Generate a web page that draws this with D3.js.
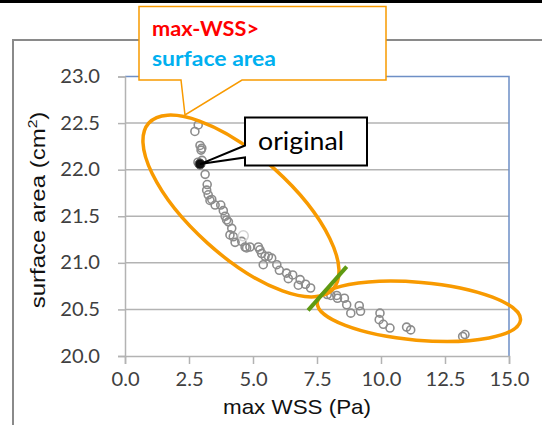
<!DOCTYPE html>
<html>
<head>
<meta charset="utf-8">
<script src="https://cdn.jsdelivr.net/npm/d3@7"></script>
<style>
  html, body { margin: 0; padding: 0; background: #fff; }
  svg { display: block; }
</style>
</head>
<body>
<svg id="chart" width="542" height="425"></svg>
<script>
// Max wall shear stress (Pa) vs. surface area (cm²) of the shape variants
const wss = [2.86, 2.73, 2.93, 3.00, 2.97, 2.85, 3.01, 3.13, 3.21, 3.19,
             3.25, 3.32, 3.39, 3.52, 3.74, 3.84, 3.91, 3.97, 4.04, 4.17,
             4.10, 4.23, 4.30, 4.56, 4.69, 4.75, 4.88, 5.21, 5.27, 5.34,
             5.47, 5.60, 5.73, 5.40, 5.93, 6.03, 6.31, 6.55, 6.38, 6.84,
             6.77, 7.05, 7.25, 7.90, 8.04, 8.27, 8.30, 8.57, 8.66, 8.82,
             9.15, 9.20, 9.96, 9.93, 10.09, 10.35, 11.00, 11.16, 13.19, 13.28];
const area = [22.48, 22.41, 22.26, 22.23, 22.21, 22.08, 22.10, 21.95, 21.84, 21.78,
              21.73, 21.67, 21.68, 21.62, 21.62, 21.56, 21.50, 21.46, 21.44, 21.37,
              21.30, 21.28, 21.22, 21.23, 21.17, 21.16, 21.17, 21.17, 21.14, 21.10,
              21.07, 21.07, 21.05, 20.98, 20.98, 20.92, 20.89, 20.87, 20.83, 20.82,
              20.76, 20.77, 20.73, 20.66, 20.65, 20.65, 20.62, 20.62, 20.55, 20.46,
              20.54, 20.48, 20.46, 20.39, 20.34, 20.30, 20.31, 20.28, 20.21, 20.23];
// one faint, overlapping marker
const faintWss = [4.62];
const faintArea = [21.29];
// the original geometry
const originalWss = [2.93];
const originalArea = [22.06];

const xTicks = [0, 2.5, 5, 7.5, 10, 12.5, 15];
const yTicks = [20, 20.5, 21, 21.5, 22, 22.5, 23];
const xTitle = "max WSS (Pa)";
const yTitle = "surface area (cm";
const calloutLines = ["max-WSS>", "surface area"];
const originalLabel = "original";

const svg = d3.select("#chart");
const W = 542, H = 425;
const plot = { left: 125, right: 509, top: 76.5, bottom: 356 };

const x = d3.scaleLinear().domain([0, 15]).range([plot.left, plot.right]);
const y = d3.scaleLinear().domain([20, 23]).range([plot.bottom, plot.top]);

const ORANGE = "#f89a00";
const GRID = "#b3b3b3";
const BLUE = "#6e8fc6";

// widen text horizontally to the given factor
function stretch(sel, k) {
  sel.each(function () {
    const n = this;
    const len = n.getComputedTextLength();
    d3.select(n).attr("textLength", len * k).attr("lengthAdjust", "spacingAndGlyphs");
  });
}

// page frame
svg.append("rect").attr("x", 0).attr("y", 0).attr("width", W).attr("height", 3).attr("fill", "#000");
svg.append("path")
  .attr("d", `M13,${H + 2} L13,40 L${W + 2},40`)
  .attr("fill", "none").attr("stroke", "#8a8a8a").attr("stroke-width", 2);

// horizontal gridlines
svg.append("g")
  .selectAll("line")
  .data(yTicks.filter(t => t > 20 && t < 23))
  .join("line")
  .attr("x1", plot.left).attr("x2", plot.right)
  .attr("y1", d => y(d)).attr("y2", d => y(d))
  .attr("stroke", GRID).attr("stroke-width", 1.5);

// plot border (top & right)
svg.append("path")
  .attr("d", `M${plot.left},${y(23)} L${plot.right},${y(23)} L${plot.right},${y(20)}`)
  .attr("fill", "none").attr("stroke", BLUE).attr("stroke-width", 1.5);

// axes
const xAxis = svg.append("g")
  .attr("transform", `translate(0,${plot.bottom})`)
  .call(d3.axisBottom(x).tickValues(xTicks).tickFormat(d3.format(".1f")).tickSize(8).tickPadding(9));
const yAxis = svg.append("g")
  .attr("transform", `translate(${plot.left},0)`)
  .call(d3.axisLeft(y).tickValues(yTicks).tickFormat(d3.format(".1f")).tickSize(7).tickPadding(18));

[xAxis, yAxis].forEach(g => {
  g.select(".domain").attr("stroke", GRID).attr("stroke-width", 1.5);
  g.selectAll(".tick line").attr("stroke", GRID).attr("stroke-width", 1.5);
  g.selectAll(".tick text")
    .attr("fill", "#404040")
    .style("font-family", "Lato, 'Open Sans', sans-serif")
    .style("font-size", "19px");
});
xAxis.selectAll(".tick text").attr("dy", "0.71em");
stretch(xAxis.selectAll(".tick text"), 1.06);
stretch(yAxis.selectAll(".tick text"), 1.06);

// axis titles (stretched along the reading direction)
svg.append("text")
  .attr("transform", "translate(297,414) scale(1.12,1)")
  .attr("text-anchor", "middle")
  .style("font-family", "'Liberation Sans', Arial, sans-serif")
  .style("font-size", "20px")
  .attr("fill", "#111")
  .text(xTitle);

const yt = svg.append("text")
  .attr("transform", "translate(45,210) rotate(-90) scale(1.2,1)")
  .attr("text-anchor", "middle")
  .style("font-family", "'Liberation Sans', Arial, sans-serif")
  .style("font-size", "20px")
  .attr("fill", "#111");
yt.append("tspan").text(yTitle);
yt.append("tspan").attr("dy", -8).style("font-size", "13px").text("2");
yt.append("tspan").attr("dy", 8).text(")");

// data markers
const pts = d3.zip(wss, area);
svg.append("g")
  .selectAll("circle")
  .data(pts)
  .join("circle")
  .attr("cx", d => x(d[0])).attr("cy", d => y(d[1]))
  .attr("r", 4)
  .attr("fill", "none")
  .attr("stroke", "#8c8c8c")
  .attr("stroke-width", 1.6);

svg.append("g")
  .selectAll("circle")
  .data(d3.zip(faintWss, faintArea))
  .join("circle")
  .attr("cx", d => x(d[0])).attr("cy", d => y(d[1]))
  .attr("r", 5)
  .attr("fill", "none")
  .attr("stroke", "#d4d4d4")
  .attr("stroke-width", 1.6);

const orig = d3.zip(originalWss, originalArea);
svg.append("g")
  .selectAll("circle")
  .data(orig)
  .join("circle")
  .attr("cx", d => x(d[0])).attr("cy", d => y(d[1]))
  .attr("r", 5)
  .attr("fill", "#111")
  .attr("stroke", "#555")
  .attr("stroke-width", 1);

// grouping ellipses (centres in data units, size/rotation in px)
const ellipses = [
  { cx: 4.53, cy: 21.61, rx: 124, ry: 50, rot: 42 },
  { cx: 11.48, cy: 20.48, rx: 102, ry: 29, rot: 5 }
];
svg.append("g")
  .selectAll("ellipse")
  .data(ellipses)
  .join("ellipse")
  .attr("transform", d => `translate(${x(d.cx)},${y(d.cy)}) rotate(${d.rot})`)
  .attr("rx", d => d.rx).attr("ry", d => d.ry)
  .attr("fill", "none")
  .attr("stroke", ORANGE)
  .attr("stroke-width", 3.5);

// separator between the two groups
const cut = [[7.15, 20.49], [8.66, 20.96]];
svg.append("line")
  .attr("x1", x(cut[0][0])).attr("y1", y(cut[0][1]))
  .attr("x2", x(cut[1][0])).attr("y2", y(cut[1][1]))
  .attr("stroke", "#5f9a12")
  .attr("stroke-width", 4);

// "original" callout
const ox = x(originalWss[0]), oy = y(originalArea[0]);
const bx0 = 245, by0 = 117.5, bx1 = 367, by1 = 165.5;
svg.append("path")
  .attr("d", `M${bx0},${by0} L${bx1},${by0} L${bx1},${by1} L${bx0},${by1} L${bx0},157.5 L${ox},${oy} L${bx0},145.5 Z`)
  .attr("fill", "#fff")
  .attr("stroke", "#000")
  .attr("stroke-width", 2)
  .attr("stroke-linejoin", "miter");
const ol = svg.append("text")
  .attr("x", 258).attr("y", 150)
  .style("font-family", "Lato, 'Open Sans', sans-serif")
  .style("font-size", "25px")
  .attr("fill", "#000")
  .text(originalLabel);
ol.attr("textLength", 86).attr("lengthAdjust", "spacingAndGlyphs");

// top callout box pointing at the first ellipse
const cx0 = 139, cy0 = 6.5, cx1 = 386, cy1 = 80;
svg.append("path")
  .attr("d", `M${cx0},${cy0} L${cx1},${cy0} L${cx1},${cy1} L242,${cy1} L185,115 L181,${cy1} L${cx0},${cy1} Z`)
  .attr("fill", "#fff")
  .attr("stroke", ORANGE)
  .attr("stroke-width", 1.5)
  .attr("stroke-linejoin", "miter");
const c1 = svg.append("text")
  .attr("x", 152).attr("y", 36)
  .style("font-family", "Lato, sans-serif").style("font-weight", 700)
  .style("font-size", "20px")
  .attr("fill", "#ff0000")
  .text(calloutLines[0]);
c1.attr("textLength", 107).attr("lengthAdjust", "spacingAndGlyphs");
const c2 = svg.append("text")
  .attr("x", 152).attr("y", 66)
  .style("font-family", "Lato, sans-serif").style("font-weight", 700)
  .style("font-size", "20px")
  .attr("fill", "#00b0f0")
  .text(calloutLines[1]);
c2.attr("textLength", 124).attr("lengthAdjust", "spacingAndGlyphs");
</script>
</body>
</html>
